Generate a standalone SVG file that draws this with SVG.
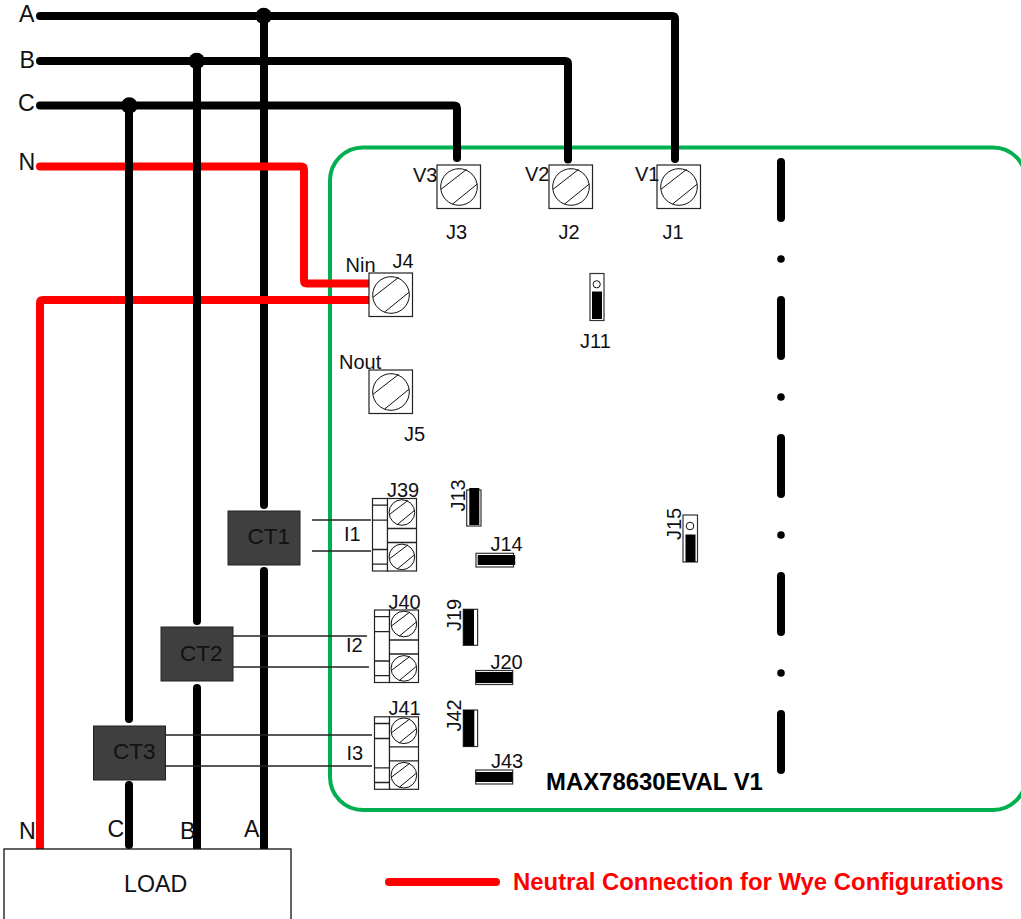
<svg xmlns="http://www.w3.org/2000/svg" width="1021" height="919" viewBox="0 0 1021 919">
<style>
text{font-family:"Liberation Sans",Arial,sans-serif;font-size:20px;fill:#111}
.ph{font-size:23.2px}
.ct{font-size:22.5px;fill:#111}
.bold{font-size:23.9px;font-weight:bold;fill:#000}
.blk,.red,.dash{fill:none;stroke-width:8;stroke-linejoin:round;stroke-linecap:round}
.blk,.dash{stroke:#000}
.red{stroke:#f00}
.butt{stroke-linecap:butt}
.wire{stroke:#222;stroke-width:1.3;fill:none}
.term{fill:#fff;stroke:#222;stroke-width:1.2}
.scr{fill:none;stroke:#111;stroke-width:1}
.jb{fill:#fff;stroke:#333;stroke-width:1.2}
.ctb{fill:#3f3f3f;stroke:#222;stroke-width:1}
.green{fill:none;stroke:#00b050;stroke-width:4}
</style>
<defs>
<g id="bigscrew">
<rect class="term" x="-22" y="-22" width="43.5" height="43.5"/>
<circle class="scr" cx="0" cy="0" r="18.3"/>
<path class="scr" d="M-18 2.3 7.7-17.7M-6.3 17 18.3-3"/>
</g>
<g id="smallscrew">
<circle class="scr" cx="0" cy="0" r="12.8"/>
<path class="scr" d="M-12.5 2 6-12M-4.500 12 12.500-2"/>
</g>
<g id="block">
<rect class="term" x="0" y="0" width="15" height="72.5"/>
<path class="wire" d="M0 6.7H15M0 21.7H15M0 51H15M0 65.7H15"/>
<rect class="term" x="15" y="0" width="29" height="72.5"/>
<path class="wire" d="M15 30H44M15 44H44"/>
<use href="#smallscrew" x="29.4" y="14"/>
<use href="#smallscrew" x="29.4" y="58.4"/>
</g>
</defs>

<g id="board"><rect class="green" x="330" y="147.500" width="696" height="662.500" rx="33" ry="33"/></g>

<g id="connectors">
<path class="blk" d="M40 16H672Q675 16 675 19V159"/>
<path class="blk" d="M40 61H565Q568 61 568 64V159.500"/>
<path class="blk" d="M40 105.500H454Q457 105.500 457 108.500V158"/>
<path class="blk" d="M264 16V505"/>
<path class="blk butt" d="M264 571V849"/>
<path class="blk" d="M264 571V575"/>
<path class="red" d="M40 166.500H301Q304 166.500 304 169.500V280.500Q304 283.500 307 283.500H371.500"/>
<path class="red" d="M371.500 300H43Q40 300 40 303V845"/>
<path class="red butt" d="M40 840V849"/>
<path class="blk" d="M197 61V621"/>
<path class="blk butt" d="M197 688V849"/>
<path class="blk" d="M197 688V690"/>
<path class="blk" d="M129 105.500V719"/>
<path class="blk" d="M129 785V845"/>
<circle cx="263.700" cy="16" r="8.300"/>
<circle cx="196.700" cy="61" r="8.300"/>
<circle cx="129.300" cy="105.500" r="8.300"/>
<path class="wire" d="M312 520H371M312 551H371"/>
<path class="wire" d="M233 636H367M233 667H369"/>
<path class="wire" d="M166 735H372M166 766H372"/>
<path class="red" d="M389 882H496"/>
</g>

<g id="dashline">
<path class="dash" d="M781 162V218M781 300V356M781 438V494M781 576V632M781 714V770"/>
<circle cx="781" cy="259" r="3.800"/><circle cx="781" cy="397" r="3.800"/><circle cx="781" cy="535" r="3.800"/><circle cx="781" cy="673" r="3.800"/>
</g>

<g id="lines-labels">
<text class="ph" x="19" y="22">A</text>
<text class="ph" x="19.500" y="68">B</text>
<text class="ph" x="18" y="111">C</text>
<text class="ph" x="18.500" y="170">N</text>
</g>

<g id="J3"><use href="#bigscrew" x="459" y="187"/><text x="413" y="181.500">V3</text><text x="446" y="239">J3</text></g>
<g id="J2"><use href="#bigscrew" x="571" y="187"/><text x="558.500" y="239">J2</text><text x="525" y="181">V2</text></g>
<g id="J1"><use href="#bigscrew" x="679" y="187"/><text x="635" y="181">V1</text><text x="662.500" y="239">J1</text></g>
<g id="J4"><use href="#bigscrew" x="391" y="295"/><text x="345.500" y="272">Nin</text><text x="392.500" y="268">J4</text></g>
<g id="J5"><use href="#bigscrew" x="391" y="392"/><text x="339" y="369">Nout</text><text x="404" y="441">J5</text></g>

<g id="J11"><rect class="jb" x="590" y="273.500" width="14" height="47"/><circle class="scr" cx="596.700" cy="284.300" r="3.600"/><rect x="592" y="291.500" width="10" height="27.500"/><text x="580" y="348">J11</text></g>
<g id="J15"><rect class="jb" x="683" y="515" width="14.500" height="47"/><circle class="scr" cx="690" cy="526" r="3.800"/><rect x="685.500" y="534.500" width="10" height="27.500"/><text transform="translate(680.500 540) rotate(-90)">J15</text></g>

<g id="J39"><use href="#block" x="372.500" y="498.500"/><text x="387" y="497">J39</text></g>
<g id="J40"><use href="#block" x="374.500" y="610"/><text x="388.500" y="608.500">J40</text></g>
<g id="J41"><use href="#block" x="374.500" y="716.800"/><text x="388.500" y="715">J41</text></g>

<g id="J13"><rect class="jb" x="466.700" y="490" width="14.300" height="36"/><rect x="469.300" y="488" width="10" height="37"/><text transform="translate(465 511.500) rotate(-90)">J13</text></g>
<g id="J14"><rect class="jb" x="476" y="553.300" width="37.500" height="13.700"/><rect x="477.700" y="555" width="37.500" height="10"/><text x="490.500" y="551">J14</text></g>
<g id="J19"><rect class="jb" x="463.300" y="609.300" width="14.300" height="36"/><rect x="463.300" y="609.300" width="10.700" height="36"/><text transform="translate(460.700 631) rotate(-90)">J19</text></g>
<g id="J20"><rect class="jb" x="475.700" y="670.500" width="37" height="14"/><rect x="475.700" y="672" width="37" height="11"/><text x="490.500" y="669">J20</text></g>
<g id="J42"><rect class="jb" x="463.300" y="710" width="14.300" height="36.500"/><rect x="463.300" y="710" width="11" height="36.500"/><text transform="translate(460.700 731.500) rotate(-90)">J42</text></g>
<g id="J43"><rect class="jb" x="475.700" y="770" width="37" height="14"/><rect x="475.700" y="772" width="37" height="10"/><text x="491" y="767.500">J43</text></g>

<g id="I-labels"><text x="344" y="541">I1</text><text x="346" y="652">I2</text><text x="346.500" y="759.500">I3</text></g>

<g id="CT1"><rect class="ctb" x="228" y="511" width="72" height="54"/><text class="ct" x="247.500" y="544">CT1</text></g>
<g id="CT2"><rect class="ctb" x="161" y="627" width="72" height="54"/><text class="ct" x="180" y="661">CT2</text></g>
<g id="CT3"><rect class="ctb" x="93.500" y="726" width="72" height="54"/><text class="ct" x="113" y="759">CT3</text></g>

<g id="LOAD"><rect x="4" y="849" width="287" height="80" fill="#fff" stroke="#111" stroke-width="1.300"/><text class="ph" x="124" y="891.500">LOAD</text>
<text class="ph" x="19" y="839">N</text><text class="ph" x="107.500" y="836.500">C</text><text class="ph" x="180" y="839">B</text><text class="ph" x="244" y="837">A</text></g>

<text class="bold" x="546" y="790">MAX78630EVAL V1</text>
<text class="bold" x="513" y="890" style="fill:#f00">Neutral Connection for Wye Configurations</text>
</svg>
